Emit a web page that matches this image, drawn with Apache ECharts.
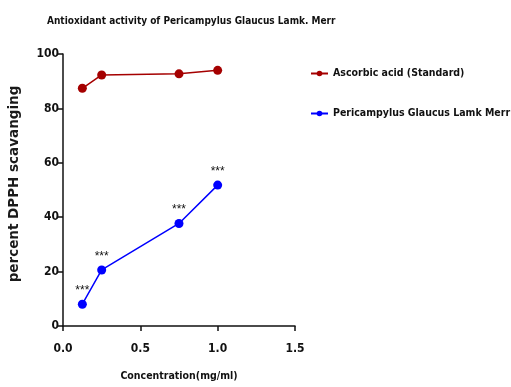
<!DOCTYPE html>
<html>
<head>
<meta charset="utf-8">
<script src="https://cdn.jsdelivr.net/npm/echarts@6/dist/echarts.min.js"></script>
<style>
  html, body { margin: 0; padding: 0; background: #fff; }
  #chart { width: 511px; height: 387px; }
</style>
</head>
<body>
<div id="chart"></div>
<script>
// concentrations (mg/ml)
var conc = [0.125, 0.25, 0.75, 1.0];
// percent DPPH scavenging
var ascorbic = [87.4, 92.3, 92.7, 94.0];
var pericampylus = [8.0, 20.6, 37.7, 51.8];
var sigLabels = ['***', '***', '***', '***'];

var narrow = '"DejaVu Sans Condensed", "Liberation Sans Narrow", sans-serif';

function pairs(xs, ys) {
    return xs.map(function(x, i) { return [x, ys[i]]; });
}

var chart = echarts.init(document.getElementById('chart'));
chart.setOption({
    animation: false,
    title: {
        text: 'Antioxidant activity of Pericampylus Glaucus Lamk. Merr',
        left: 42,
        top: 11,
        textStyle: {
            fontFamily: narrow,
            fontSize: 10,
            fontWeight: 'bold',
            color: '#111'
        }
    },
    legend: {
        orient: 'vertical',
        left: 305,
        top: 63,
        itemGap: 29,
        itemWidth: 17,
        itemHeight: 7,
        data: ['Ascorbic acid (Standard)', 'Pericampylus Glaucus Lamk Merr'],
        textStyle: {
            fontFamily: narrow,
            fontSize: 10.5,
            fontWeight: 'bold',
            color: '#111'
        }
    },
    grid: {
        left: 63,
        top: 54,
        right: 216,
        bottom: 60
    },
    xAxis: {
        type: 'value',
        min: 0,
        max: 1.5,
        interval: 0.5,
        name: 'Concentration(mg/ml)',
        nameLocation: 'middle',
        nameGap: 45,
        nameTextStyle: {
            fontFamily: narrow,
            fontSize: 10.5,
            fontWeight: 'bold',
            color: '#111'
        },
        axisLine: { lineStyle: { color: '#111', width: 1.5 } },
        axisTick: { length: 5, lineStyle: { color: '#111', width: 1.5 } },
        splitLine: { show: false },
        axisLabel: {
            margin: 17,
            fontFamily: narrow,
            fontSize: 12,
            fontWeight: 'bold',
            color: '#111',
            formatter: function(v) { return v.toFixed(1); }
        }
    },
    yAxis: {
        type: 'value',
        min: 0,
        max: 100,
        interval: 20,
        name: 'percent DPPH scavanging',
        nameLocation: 'middle',
        nameGap: 42,
        nameTextStyle: {
            fontFamily: '"DejaVu Sans", sans-serif',
            fontSize: 13.5,
            fontWeight: 'bold',
            color: '#1a1a1a',
            padding: [0, 0, 0, 12]
        },
        axisLine: { show: true, lineStyle: { color: '#111', width: 1.5 } },
        axisTick: { show: true, length: 5, lineStyle: { color: '#111', width: 1.5 } },
        splitLine: { show: false },
        axisLabel: {
            margin: 4,
            fontFamily: narrow,
            fontSize: 12,
            fontWeight: 'bold',
            color: '#111'
        }
    },
    series: [{
        name: 'Ascorbic acid (Standard)',
        type: 'line',
        data: pairs(conc, ascorbic),
        symbol: 'circle',
        symbolSize: 9,
        lineStyle: { color: '#a50000', width: 1.5 },
        itemStyle: { color: '#a50000' }
    }, {
        name: 'Pericampylus Glaucus Lamk Merr',
        type: 'line',
        data: pairs(conc, pericampylus),
        symbol: 'circle',
        symbolSize: 9,
        lineStyle: { color: '#0000ff', width: 1.5 },
        itemStyle: { color: '#0000ff' },
        label: {
            show: true,
            position: 'top',
            distance: 3,
            fontSize: 12,
            color: '#111',
            formatter: function(p) { return sigLabels[p.dataIndex]; }
        }
    }]
});
</script>
</body>
</html>
